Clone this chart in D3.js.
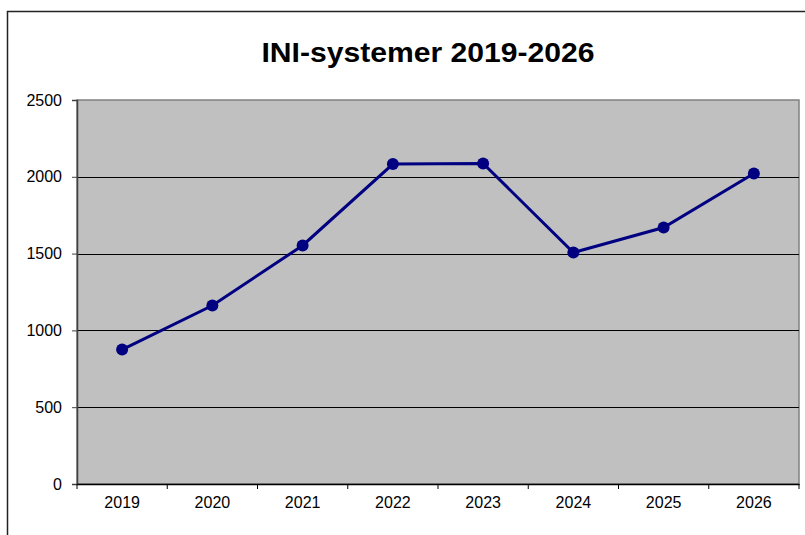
<!DOCTYPE html>
<html>
<head>
<meta charset="utf-8">
<script src="https://cdn.jsdelivr.net/npm/d3@7"></script>
<style>
  body { margin: 0; background: #fff; }
  text { font-family: "Liberation Sans", Arial, sans-serif; }
</style>
</head>
<body>
<svg id="chart" width="805" height="535"></svg>
<script>
// data
var years = ["2019", "2020", "2021", "2022", "2023", "2024", "2025", "2026"];
var values = [875, 1162, 1553, 2083, 2087, 1507, 1670, 2022];
var yTicks = [0, 500, 1000, 1500, 2000, 2500];
var title = "INI-systemer 2019-2026";

var svg = d3.select("#chart");
var plotLeft = 77, plotRight = 799, plotTop = 100, plotBottom = 484;

// outer chart border
svg.append("rect")
  .attr("x", 7.5).attr("y", 11.5)
  .attr("width", 820).attr("height", 540)
  .attr("fill", "none").attr("stroke", "#222").attr("stroke-width", 1.5);

svg.append("text")
  .attr("x", 428).attr("y", 62)
  .attr("text-anchor", "middle")
  .attr("textLength", 333)
  .attr("lengthAdjust", "spacingAndGlyphs")
  .style("font-size", "27px").style("font-weight", "bold")
  .text(title);

var x = d3.scaleBand().domain(years).range([plotLeft, plotRight]);
var y = d3.scaleLinear().domain([0, 2500]).range([plotBottom, plotTop]);

// plot area
svg.append("rect")
  .attr("x", plotLeft).attr("y", plotTop)
  .attr("width", plotRight - plotLeft).attr("height", plotBottom - plotTop)
  .attr("fill", "#c0c0c0").attr("stroke", "#808080").attr("stroke-width", 1.5);

// gridlines
svg.append("g")
  .selectAll("line")
  .data(yTicks.slice(1, -1))
  .enter()
  .append("line")
    .attr("x1", plotLeft).attr("x2", plotRight)
    .attr("y1", function(d) { return Math.round(y(d)) + 0.5; })
    .attr("y2", function(d) { return Math.round(y(d)) + 0.5; })
    .attr("stroke", "#000").attr("stroke-width", 1);

var yAxis = d3.axisLeft(y).tickValues(yTicks).tickFormat(d3.format("d")).tickSize(5).tickPadding(10);
var gy = svg.append("g").attr("transform", "translate(" + plotLeft + ",0)").call(yAxis);
gy.select(".domain").attr("stroke", "#404040").attr("stroke-width", 1.5);
gy.selectAll(".tick line").attr("stroke", "#404040");
gy.selectAll("text").style("font-size", "16px").attr("fill", "#000");

// category boundary ticks on x axis
var xAxis = d3.axisBottom(x).tickSize(0).tickPadding(13);
var gx = svg.append("g").attr("transform", "translate(0," + plotBottom + ")").call(xAxis);
gx.select(".domain").attr("stroke", "#000").attr("stroke-width", 1.5);
gx.selectAll("text").style("font-size", "16px").attr("fill", "#000");
gx.selectAll(".bound")
  .data(years.concat(["end"]))
  .enter()
  .append("line")
    .attr("class", "bound")
    .attr("x1", function(d, i) { return plotLeft + i * x.step(); })
    .attr("x2", function(d, i) { return plotLeft + i * x.step(); })
    .attr("y1", 0).attr("y2", 5)
    .attr("stroke", "#000");

var line = d3.line()
  .x(function(d, i) { return x(years[i]) + x.bandwidth() / 2; })
  .y(function(d) { return y(d); });

svg.append("path")
  .datum(values)
  .attr("d", line)
  .attr("fill", "none")
  .attr("stroke", "#000080")
  .attr("stroke-width", 3);

svg.append("g")
  .selectAll("circle")
  .data(values)
  .enter()
  .append("circle")
    .attr("cx", function(d, i) { return x(years[i]) + x.bandwidth() / 2; })
    .attr("cy", function(d) { return y(d); })
    .attr("r", 6)
    .attr("fill", "#000080");
</script>
</body>
</html>
